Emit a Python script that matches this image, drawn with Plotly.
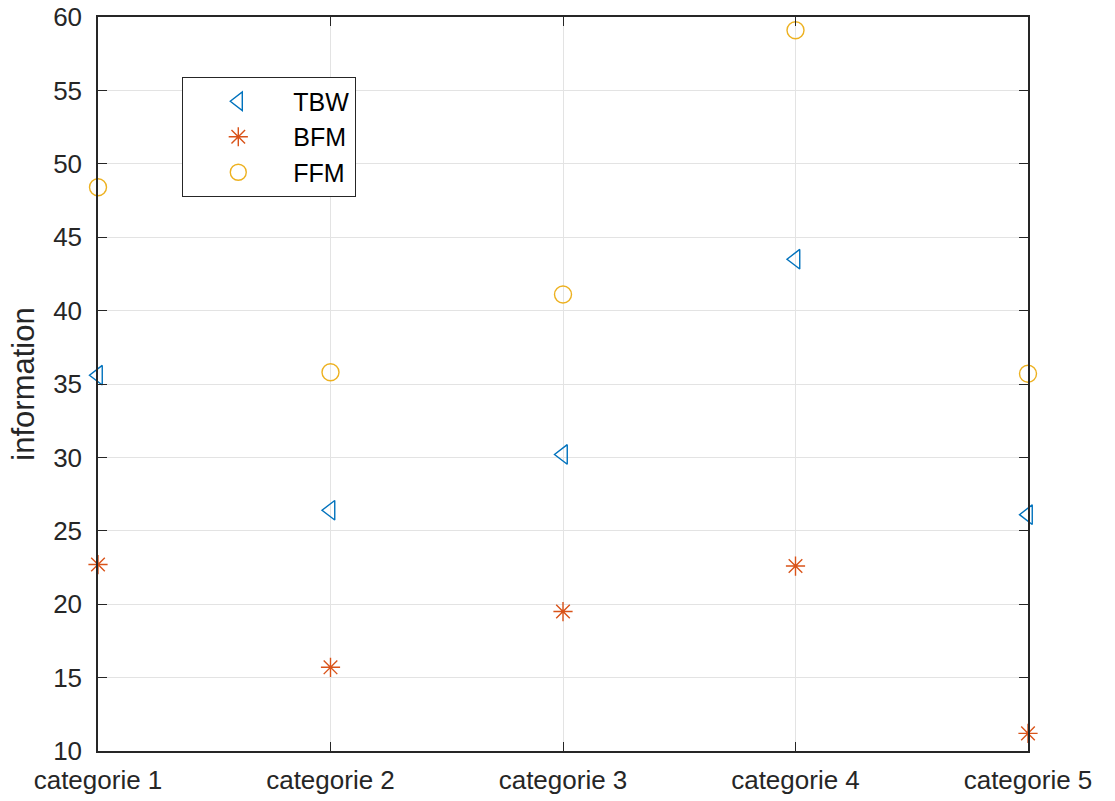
import plotly.graph_objects as go

categories = ["categorie 1", "categorie 2", "categorie 3", "categorie 4", "categorie 5"]
tbw = [35.6, 26.4, 30.2, 43.5, 26.1]
bfm = [22.7, 15.7, 19.5, 22.6, 11.2]
ffm = [48.4, 35.8, 41.1, 59.1, 35.7]
yticks = [10, 15, 20, 25, 30, 35, 40, 45, 50, 55, 60]

xpos = list(range(len(categories)))
FONT = "Liberation Sans, Arial"

fig = go.Figure()
fig.add_trace(go.Scatter(x=xpos, y=tbw, mode="markers", name="TBW", cliponaxis=False,
                         marker=dict(symbol="triangle-left-open", size=17, color="#0072BD",
                                     line=dict(width=1.4, color="#0072BD"))))
fig.add_trace(go.Scatter(x=xpos, y=bfm, mode="markers", name="BFM", cliponaxis=False,
                         marker=dict(symbol="asterisk-open", size=16, color="#D95319",
                                     line=dict(width=1.4, color="#D95319"))))
fig.add_trace(go.Scatter(x=xpos, y=ffm, mode="markers", name="FFM", cliponaxis=False,
                         marker=dict(symbol="circle-open", size=17, color="#EDB120",
                                     line=dict(width=1.4, color="#EDB120"))))

axis_common = dict(showline=True, linecolor="#262626", linewidth=1.5, mirror="ticks",
                   ticks="inside", ticklen=9, tickcolor="#262626", tickwidth=1.3,
                   showgrid=True, gridcolor="#e3e3e3", gridwidth=1, zeroline=False,
                   automargin=False, ticklabeloverflow="allow",
                   tickfont=dict(family=FONT, size=26, color="#262626"))

fig.update_layout(
    width=1115, height=801,
    margin=dict(l=98, r=87, t=17, b=50),
    paper_bgcolor="white", plot_bgcolor="white",
    xaxis=dict(range=[0, 4], tickvals=xpos, ticktext=categories, ticklabelstandoff=5,
               **axis_common),
    yaxis=dict(range=[10, 60], tickvals=yticks, ticklabelstandoff=9,
               title=dict(text="information",
                          font=dict(family=FONT, size=31, color="#262626"), standoff=9),
               **axis_common),
    legend=dict(x=0.0903, y=0.918, xanchor="left", yanchor="top",
                bgcolor="white", bordercolor="#262626", borderwidth=1.3,
                font=dict(family=FONT, size=25, color="#000000"),
                itemwidth=100, tracegroupgap=0),
    showlegend=True,
)

fig.write_html("out.html", config={"displayModeBar": False},
               post_script="document.body.style.margin='0';")
